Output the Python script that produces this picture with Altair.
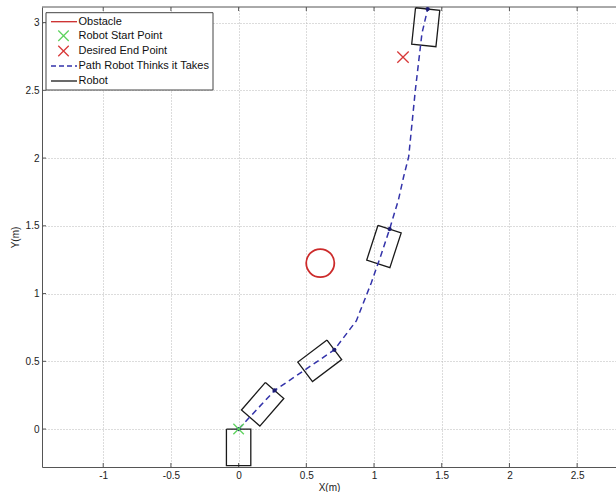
import math
import altair as alt
import pandas as pd

# ---- data ----
path_x = [0.0, 0.266, 0.707, 0.87, 0.98, 1.05, 1.115, 1.18, 1.219, 1.256, 1.305, 1.354, 1.396]
path_y = [0.0, 0.285, 0.585, 0.80, 1.08, 1.28, 1.476, 1.69, 1.864, 2.01, 2.50, 2.92, 3.10]

robot_x = [0.0, 0.266, 0.707, 1.115, 1.396]
robot_y = [0.0, 0.285, 0.585, 1.476, 3.10]
robot_heading = [90, 49, 37, 72, 84]
robot_len = 0.27
robot_wid = 0.18

obstacle_x = [0.603]
obstacle_y = [1.225]

start_x, start_y = [0.0], [0.0]
end_x, end_y = [1.214], [2.745]

x_ticks = [-1, -0.5, 0, 0.5, 1, 1.5, 2, 2.5]
y_ticks = [0, 0.5, 1, 1.5, 2, 2.5, 3]

legend_labels = ["Obstacle", "Robot Start Point", "Desired End Point",
                 "Path Robot Thinks it Takes", "Robot"]

# ---- layout ----
W, H = 574, 460
XDOM = [-1.452, 2.787]
YDOM = [-0.28, 3.115]
FONT = "Liberation Sans"

xs = alt.Scale(domain=XDOM, nice=False, zero=False)
ys = alt.Scale(domain=YDOM, nice=False, zero=False)

x_axis = alt.Axis(values=x_ticks, grid=True, gridDash=[1, 2], gridColor="#b8b8b8",
                  gridWidth=1, tickSize=0, labelFont=FONT, labelFontSize=10,
                  labelColor="#222", labelPadding=3, titleFont=FONT, titleFontSize=10,
                  titleFontWeight="normal", titleColor="#222", titleY=20,
                  titleBaseline="middle", domainColor="#555", labelFlush=False,
                  labelExpr="'' + datum.value")
y_axis = alt.Axis(values=y_ticks, grid=True, gridDash=[1, 2], gridColor="#b8b8b8",
                  gridWidth=1, tickSize=0, labelFont=FONT, labelFontSize=10,
                  labelColor="#222", labelPadding=3, titleFont=FONT, titleFontSize=10,
                  titleFontWeight="normal", titleColor="#222", titlePadding=5,
                  domainColor="#555", labelFlush=False, labelExpr="'' + datum.value")

X = alt.X("x:Q", scale=xs, axis=x_axis, title="X(m)")
Y = alt.Y("y:Q", scale=ys, axis=y_axis, title="Y(m)")

path_df = pd.DataFrame({"x": path_x, "y": path_y, "o": range(len(path_x))})

rows = []
for i, (px, py, h) in enumerate(zip(robot_x, robot_y, robot_heading)):
    t = math.radians(h)
    ux, uy = math.cos(t), math.sin(t)
    nx, ny = -math.sin(t), math.cos(t)
    hw = robot_wid / 2
    corners = [
        (px + nx * hw, py + ny * hw),
        (px - nx * hw, py - ny * hw),
        (px - ux * robot_len - nx * hw, py - uy * robot_len - ny * hw),
        (px - ux * robot_len + nx * hw, py - uy * robot_len + ny * hw),
    ]
    corners.append(corners[0])
    for k, (cx, cy) in enumerate(corners):
        rows.append({"rid": i, "k": k, "x": cx, "y": cy})
rect_df = pd.DataFrame(rows)

one = pd.DataFrame({"x": [0.0], "y": [0.0]})

# inward ticks
xt_df = pd.DataFrame({"x": x_ticks})
yt_df = pd.DataFrame({"y": y_ticks})
xticks_bottom = alt.Chart(xt_df).mark_rule(color="#555", strokeWidth=1).encode(
    x=X, y=alt.value(H), y2=alt.value(H - 4))
xticks_top = alt.Chart(xt_df).mark_rule(color="#555", strokeWidth=1).encode(
    x=X, y=alt.value(0), y2=alt.value(4))
yticks_left = alt.Chart(yt_df).mark_rule(color="#555", strokeWidth=1).encode(
    y=Y, x=alt.value(0), x2=alt.value(4))
top_border = alt.Chart(one).mark_rule(color="#555", strokeWidth=1).encode(
    x=alt.value(0), x2=alt.value(W), y=alt.value(0))

robots = alt.Chart(rect_df).mark_line(color="#1a1a1a", strokeWidth=1.3, clip=True).encode(
    x=X, y=Y, detail="rid:N", order="k:Q")

path = alt.Chart(path_df).mark_line(color="#3333aa", strokeWidth=1.5, strokeDash=[6, 4],
                                    clip=True).encode(x=X, y=Y, order="o:Q")

dots = alt.Chart(pd.DataFrame({"x": robot_x, "y": robot_y})).mark_point(
    filled=True, color="#1c1c70", size=18, opacity=1).encode(x=X, y=Y)

xshape = "M-1,-1L1,1M-1,1L1,-1"
start_pt = alt.Chart(pd.DataFrame({"x": start_x, "y": start_y})).mark_point(
    shape=xshape, filled=False, color="#5fd35f", size=110, strokeWidth=1.3, opacity=1
).encode(x=X, y=Y)
end_pt = alt.Chart(pd.DataFrame({"x": end_x, "y": end_y})).mark_point(
    shape=xshape, filled=False, color="#d83a3a", size=130, strokeWidth=1.3, opacity=1
).encode(x=X, y=Y)

obstacle = alt.Chart(pd.DataFrame({"x": obstacle_x, "y": obstacle_y})).mark_point(
    shape="circle", filled=False, color="#cc2a2a", size=790, strokeWidth=1.8, opacity=1
).encode(x=X, y=Y)

# ---- legend (drawn manually) ----
leg_y = [14.7, 28.7, 44, 59, 74]
legend_box = alt.Chart(one).mark_rect(fill="white", stroke="#444", strokeWidth=1).encode(
    x=alt.value(4), x2=alt.value(171), y=alt.value(5.7), y2=alt.value(83))
leg_layers = [legend_box]
for lab, yy in zip(legend_labels, leg_y):
    d = pd.DataFrame({"label": [lab]})
    leg_layers.append(alt.Chart(d).mark_text(align="left", baseline="middle", font=FONT,
                                             fontSize=11, color="#111").encode(
        x=alt.value(36.5), y=alt.value(yy), text="label:N"))
d1 = pd.DataFrame({"label": ["l"]})
leg_layers.append(alt.Chart(d1).mark_rule(color="#cc2a2a", strokeWidth=1.3).encode(
    x=alt.value(9), x2=alt.value(35), y=alt.value(leg_y[0])))
leg_layers.append(alt.Chart(d1).mark_point(shape=xshape, filled=False, color="#5fd35f", size=110,
                                           strokeWidth=1.3, opacity=1).encode(
    x=alt.value(21.5), y=alt.value(leg_y[1])))
leg_layers.append(alt.Chart(d1).mark_point(shape=xshape, filled=False, color="#d83a3a", size=110,
                                           strokeWidth=1.3, opacity=1).encode(
    x=alt.value(21.5), y=alt.value(leg_y[2])))
leg_layers.append(alt.Chart(d1).mark_rule(color="#3333aa", strokeWidth=1.5, strokeDash=[5, 3]).encode(
    x=alt.value(9), x2=alt.value(35), y=alt.value(leg_y[3])))
leg_layers.append(alt.Chart(d1).mark_rule(color="#1a1a1a", strokeWidth=1.3).encode(
    x=alt.value(9), x2=alt.value(35), y=alt.value(leg_y[4])))

chart = alt.layer(
    top_border, xticks_bottom, xticks_top, yticks_left,
    obstacle, robots, path, dots, start_pt, end_pt, *leg_layers
).properties(
    width=W, height=H,
    autosize=alt.AutoSizeParams(type="none"),
    padding={"left": 42, "top": 7, "right": 0, "bottom": 25},
    background="white",
).configure_view(stroke=None)

chart.save("out.html", embed_options={"renderer": "svg", "actions": False})
